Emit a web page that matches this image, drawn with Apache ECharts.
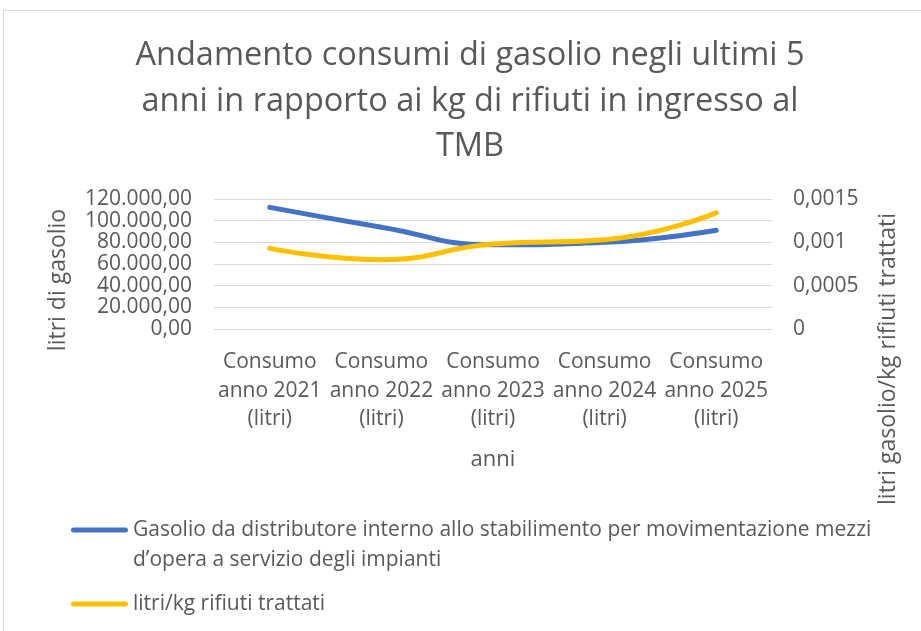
<!DOCTYPE html>
<html>
<head>
<meta charset="utf-8">
<title>Andamento consumi di gasolio</title>
<script src="https://cdn.jsdelivr.net/npm/echarts@6.0.0/dist/echarts.min.js"></script>
<style>
  html, body { margin: 0; padding: 0; background: #fff; }
  #main { width: 921px; height: 631px; }
</style>
</head>
<body>
<div id="main"></div>
<script>
// dati
var categories = ['Consumo anno 2021 (litri)', 'Consumo anno 2022 (litri)', 'Consumo anno 2023 (litri)', 'Consumo anno 2024 (litri)', 'Consumo anno 2025 (litri)'];
var gasolioLitri = [112300, 94000, 77800, 80000, 91100];
var litriPerKg = [0.00093, 0.0008, 0.00098, 0.00103, 0.00134];
var leftTicks = [0, 20000, 40000, 60000, 80000, 100000, 120000];
var rightTicks = [0, 0.0005, 0.001, 0.0015];

var nomeGasolio = 'Gasolio da distributore interno allo stabilimento per movimentazione mezzi d\u2019opera a servizio degli impianti';
var nomeRapporto = 'litri/kg rifiuti trattati';

var grigio = '#595959';
var font = '"Open Sans", "Noto Sans", sans-serif';

function formatLitri(v) {
    var s = Math.round(v).toString().replace(/\B(?=(\d{3})+(?!\d))/g, '.');
    return s + ',00';
}
function formatRapporto(v) {
    return String(+v.toFixed(4)).replace('.', ',');
}

// icona legenda: barra arrotondata allineata alla prima riga del testo
var iconaDueRighe = 'path://M0,0 M57,40 M2.5,2.5 L54.5,2.5 A2.5,2.5 0 0 1 54.5,7.5 L2.5,7.5 A2.5,2.5 0 0 1 2.5,2.5 Z';
var iconaRiga = 'path://M2.5,0 L54.5,0 A2.5,2.5 0 0 1 54.5,5 L2.5,5 A2.5,2.5 0 0 1 2.5,0 Z';

var myChart = echarts.init(document.getElementById('main'));
myChart.setOption({
    animation: false,
    textStyle: { fontFamily: font },
    title: {
        text: 'Andamento consumi di gasolio negli ultimi 5\nanni in rapporto ai kg di rifiuti in ingresso al\nTMB',
        left: 470,
        top: 33,
        padding: 0,
        textAlign: 'center',
        textStyle: {
            fontFamily: font,
            fontSize: 32.5,
            fontWeight: 'normal',
            color: grigio,
            lineHeight: 45.5
        }
    },
    graphic: [{
        type: 'rect',
        z: -10,
        shape: { x: 3.5, y: 10.5, width: 1000, height: 1000 },
        style: { fill: 'none', stroke: '#d9d9d9', lineWidth: 1 }
    }],
    legend: [{
        data: [nomeGasolio],
        left: 71,
        top: 515,
        padding: 0,
        itemWidth: 57,
        itemHeight: 40,
        icon: iconaDueRighe,
        selectedMode: false,
        itemStyle: { borderWidth: 0 },
        formatter: function (name) { return name.replace(' d\u2019opera', '\nd\u2019opera'); },
        textStyle: { fontFamily: font, fontSize: 21, lineHeight: 30, color: grigio }
    }, {
        data: [nomeRapporto],
        left: 71,
        top: 589,
        padding: 0,
        itemWidth: 57,
        itemHeight: 5,
        icon: iconaRiga,
        selectedMode: false,
        itemStyle: { borderWidth: 0 },
        textStyle: { fontFamily: font, fontSize: 21, lineHeight: 30, color: grigio }
    }],
    grid: {
        left: 214,
        right: 149,
        top: 199,
        bottom: 302
    },
    xAxis: {
        type: 'category',
        data: categories,
        boundaryGap: true,
        name: 'anni',
        nameLocation: 'middle',
        nameGap: 117,
        nameTextStyle: { fontFamily: font, fontSize: 22, color: grigio, lineHeight: 28 },
        axisLine: { lineStyle: { color: '#d9d9d9', width: 1 } },
        axisTick: { show: false },
        axisLabel: {
            interval: 0,
            margin: 19,
            fontFamily: font,
            fontSize: 21,
            lineHeight: 28.5,
            color: grigio,
            formatter: function (v) { return v.replace('Consumo ', 'Consumo\n').replace(' (litri)', '\n(litri)'); }
        }
    },
    yAxis: [{
        type: 'value',
        position: 'left',
        min: leftTicks[0],
        max: leftTicks[leftTicks.length - 1],
        interval: leftTicks[1] - leftTicks[0],
        name: 'litri di gasolio',
        nameLocation: 'middle',
        nameGap: 144,
        nameMoveOverlap: false,
        nameTextStyle: { fontFamily: font, fontSize: 23, color: grigio, padding: [0, 32, 0, 0] },
        axisLine: { show: false },
        axisTick: { show: false },
        axisLabel: { margin: 22, fontFamily: font, fontSize: 21, color: grigio, formatter: formatLitri },
        splitLine: { lineStyle: { color: '#d9d9d9', width: 1 } }
    }, {
        type: 'value',
        position: 'right',
        min: rightTicks[0],
        max: rightTicks[rightTicks.length - 1],
        interval: rightTicks[1] - rightTicks[0],
        name: 'litri gasolio/kg rifiuti trattati',
        nameLocation: 'middle',
        nameGap: 105,
        nameMoveOverlap: false,
        nameTextStyle: { fontFamily: font, fontSize: 23, color: grigio, padding: [0, 190, 0, 0] },
        axisLine: { show: false },
        axisTick: { show: false },
        axisLabel: { margin: 21, fontFamily: font, fontSize: 21, color: grigio, formatter: formatRapporto },
        splitLine: { show: false }
    }],
    series: [{
        name: nomeGasolio,
        type: 'line',
        yAxisIndex: 0,
        smooth: 0.5,
        symbol: 'none',
        color: '#4472C4',
        lineStyle: { width: 5, color: '#4472C4', cap: 'round' },
        data: gasolioLitri
    }, {
        name: nomeRapporto,
        type: 'line',
        yAxisIndex: 1,
        smooth: 0.5,
        symbol: 'none',
        color: '#FFC000',
        lineStyle: { width: 5, color: '#FFC000', cap: 'round' },
        data: litriPerKg
    }]
});
</script>
</body>
</html>
